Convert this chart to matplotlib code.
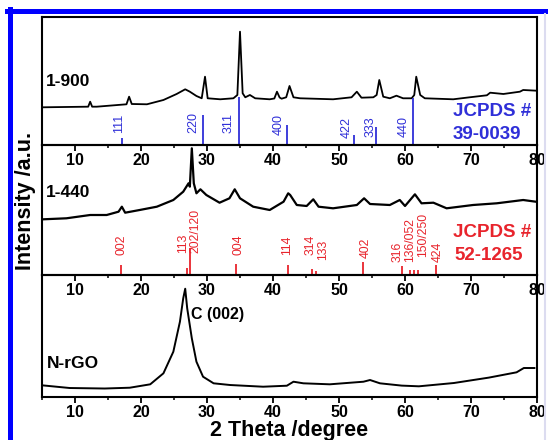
import matplotlib
matplotlib.use("Agg")
import matplotlib.pyplot as plt
from matplotlib.lines import Line2D
from matplotlib.ticker import MultipleLocator

plt.rcParams['font.family'] = ['Liberation Sans', 'DejaVu Sans']

# ---- 1-900 spectrum (2theta, intensity a.u.)
tt_900 = [5.2, 12.0, 12.3, 12.6, 13.3, 17.8, 18.2, 18.6, 20.9, 23.4, 25.4, 26.7, 27.4,
          28.4, 29.2, 29.7, 30.1, 32.0, 34.0, 34.6, 35.0, 35.4, 35.8, 36.5, 37.3,
          39.5, 40.2, 40.6, 41.0, 41.3, 42.0, 42.5, 43.1, 44.1, 49.1, 51.9, 52.7,
          53.4, 55.2, 55.7, 56.1, 56.7, 57.7, 58.7, 59.7, 61.0, 61.4, 61.7, 62.3,
          63.0, 67.3, 69.8, 72.4, 72.9, 74.9, 77.4, 77.9, 79.9]
I_900 = [37.7, 38.3, 43.3, 38.3, 38.3, 40.7, 48.3, 41.0, 40.7, 45.0, 51.0, 55.7, 53.3,
         49.0, 46.7, 68.3, 46.7, 45.7, 46.7, 50.0, 113.3, 51.7, 47.7, 50.0, 46.7,
         45.7, 46.5, 53.3, 47.5, 46.3, 47.7, 59.0, 47.7, 46.7, 45.7, 47.7, 53.3,
         47.3, 47.7, 50.0, 65.0, 48.3, 46.7, 49.3, 46.7, 46.7, 50.0, 68.3, 50.0,
         46.7, 45.7, 47.7, 49.7, 52.3, 51.0, 53.3, 55.0, 54.3]

# ---- 1-440 spectrum
tt_440 = [5.2, 8.7, 12.3, 14.8, 16.6, 17.1, 17.6, 19.8, 22.4, 24.9, 26.4, 27.2, 27.4,
          27.7, 28.0, 28.4, 29.0, 29.9, 31.9, 33.4, 34.2, 35.0, 37.0, 39.5, 41.6,
          42.3, 42.6, 43.6, 45.1, 46.1, 46.9, 49.1, 52.7, 53.8, 54.7, 57.7, 59.2,
          60.0, 61.5, 62.5, 64.3, 66.3, 70.3, 73.9, 77.9, 79.8]
I_440 = [55.7, 56.7, 60.0, 60.0, 63.3, 68.3, 62.3, 65.0, 68.3, 75.0, 83.3, 91.7, 88.3,
         126.7, 91.7, 81.7, 85.7, 80.0, 72.3, 76.7, 85.7, 76.7, 68.3, 65.0, 73.3,
         81.7, 80.0, 70.0, 69.0, 75.7, 68.3, 66.7, 70.0, 76.7, 71.0, 70.0, 75.0,
         69.0, 80.7, 71.7, 72.3, 66.7, 70.0, 71.7, 75.0, 73.3]

# ---- N-rGO spectrum
tt_rgo = [5.0, 9.2, 14.5, 18.3, 21.4, 23.4, 24.9, 25.9, 26.4, 26.7, 27.0, 27.7, 28.4,
          29.4, 31.0, 33.5, 38.5, 42.1, 43.1, 44.6, 48.6, 53.7, 54.7, 56.2, 59.5,
          62.1, 67.4, 72.7, 76.9, 78.0, 79.6]
I_rgo = [11.7, 9.0, 8.5, 9.3, 12.7, 23.7, 45.3, 75.3, 98.7, 108.3, 88.7, 58.7, 35.3,
         20.3, 13.7, 12.0, 10.3, 11.3, 15.3, 13.7, 12.7, 15.3, 17.0, 13.7, 11.4,
         10.7, 14.0, 19.4, 24.7, 29.0, 29.0]

# ---- JCPDS 39-0039 reference
ref1_pos = [17.1, 29.4, 34.85, 42.1, 52.3, 55.6, 61.2]
ref1_int = [7, 30, 48, 20, 10, 18, 47]
ref1_hkl = ['111', '220', '311', '400', '422', '333', '440']
ref1_lab_x = [16.7, 27.9, 33.2, 40.9, 51.2, 54.8, 59.8]
ref1_lab_y = [12, 12, 12, 10, 7, 8, 8]

# ---- JCPDS 52-1265 reference
ref2_pos = [17.0, 26.9, 27.5, 34.4, 42.3, 45.9, 46.5, 53.7, 59.6, 60.7, 61.3, 61.9, 64.7]
ref2_int = [10, 7, 27, 11, 10, 6, 4, 13, 9, 5, 5, 5, 10]
ref2_hkl = ['002', '113', '202/120', '004', '114', '314', '133', '402', '316',
            '136/052', '150/250', '424']
ref2_lab_x = [17.0, 26.4, 28.2, 34.7, 42.1, 45.7, 47.6, 54.1, 58.9, 60.7, 62.8, 65.0]
ref2_lab_y = [20, 22, 22, 20, 20, 20, 15, 17, 13, 13, 18, 13]

blue = '#2f2fd8'
red = '#e8242c'

fig = plt.figure(figsize=(5.48, 4.40), dpi=100)
gs = fig.add_gridspec(3, 1, height_ratios=[128, 130, 122], hspace=0,
                      left=0.0766, right=0.98, top=0.9614, bottom=0.0977)
axs = [fig.add_subplot(gs[i]) for i in range(3)]
ylims = [128, 130, 122]

for ax, ym in zip(axs, ylims):
    ax.patch.set_visible(False)
    ax.set_xlim(5, 80)
    ax.set_ylim(0, ym)
    ax.set_yticks([])
    ax.xaxis.set_major_locator(MultipleLocator(10))
    ax.xaxis.set_minor_locator(MultipleLocator(5))
    ax.tick_params(axis='x', which='major', direction='out', length=4, width=1.3,
                   pad=2, labelsize=11.5)
    ax.tick_params(axis='x', which='minor', direction='out', length=2.5, width=1.1)
    for lbl in ax.get_xticklabels():
        lbl.set_fontweight('bold')
    for sp in ax.spines.values():
        sp.set_linewidth(1.5)

# top panel
ax = axs[0]
ax.plot(tt_900, I_900, color='black', lw=1.3)
ax.vlines(ref1_pos, 0, ref1_int, color=blue, lw=1.3)
for x, y, s in zip(ref1_lab_x, ref1_lab_y, ref1_hkl):
    ax.text(x, y, s, rotation=90, ha='center', va='bottom', color=blue, fontsize=9)
ax.text(5.6, 63, '1-900', fontsize=12.5, fontweight='bold', va='center')
ax.text(73.2, 33, 'JCPDS #', fontsize=13.5, fontweight='bold', color=blue,
        ha='center', va='center')
ax.text(72.4, 10, '39-0039', fontsize=13.5, fontweight='bold', color=blue,
        ha='center', va='center')

# middle panel
ax = axs[1]
ax.plot(tt_440, I_440, color='black', lw=1.6)
ax.vlines(ref2_pos, 0, ref2_int, color=red, lw=1.3)
for x, y, s in zip(ref2_lab_x, ref2_lab_y, ref2_hkl):
    ax.text(x, y, s, rotation=90, ha='center', va='bottom', color=red, fontsize=8.8)
ax.text(5.6, 82, '1-440', fontsize=12.5, fontweight='bold', va='center')
ax.text(73.2, 42, 'JCPDS #', fontsize=13.5, fontweight='bold', color=red,
        ha='center', va='center')
ax.text(72.7, 20, '52-1265', fontsize=13.5, fontweight='bold', color=red,
        ha='center', va='center')
ax.set_ylabel('Intensity /a.u.', fontsize=15.5, fontweight='bold')
ax.yaxis.set_label_coords(-0.012, 0.57)

# bottom panel
ax = axs[2]
ax.plot(tt_rgo, I_rgo, color='black', lw=1.4)
ax.text(27.6, 83, 'C (002)', fontsize=11.5, fontweight='bold', va='center')
ax.text(5.8, 34, 'N-rGO', fontsize=12.5, fontweight='bold', va='center')
ax.set_xlabel('2 Theta /degree', fontsize=15.5, fontweight='bold', labelpad=0)

# blue frame of the figure
fig.add_artist(Line2D([7 / 548, 1.0], [1 - 11.5 / 440] * 2, color='#0000ff', lw=3.6,
                      transform=fig.transFigure))
fig.add_artist(Line2D([9.5 / 548] * 2, [0, 1 - 9 / 440], color='#0000ff', lw=3.6,
                      transform=fig.transFigure))
fig.add_artist(Line2D([545 / 548] * 2, [0, 1 - 14 / 440], color='#dcdcf0', lw=1.5,
                      transform=fig.transFigure))

fig.savefig('out.png', dpi=100)
